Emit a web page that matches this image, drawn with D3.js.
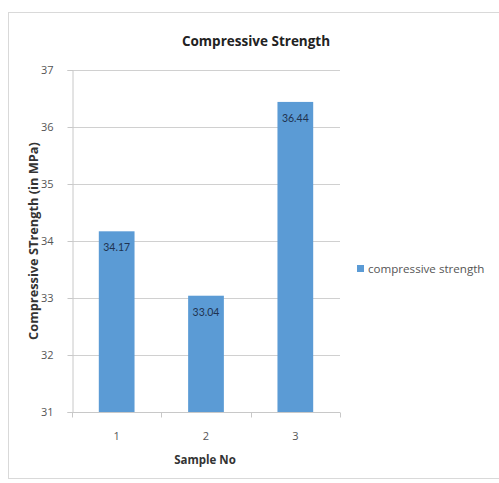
<!DOCTYPE html>
<html>
<head>
<meta charset="utf-8">
<script src="https://cdn.jsdelivr.net/npm/d3@7"></script>
<style>
  html, body { margin: 0; padding: 0; background: #fff; }
  svg { display: block; font-family: "Open Sans", Lato, sans-serif; }
</style>
</head>
<body>
<svg id="chart" width="499" height="483"></svg>
<script>
// Compressive strength per sample
const samples = ["1", "2", "3"];
const strength = [34.17, 33.04, 36.44];
const yTicks = [31, 32, 33, 34, 35, 36, 37];
const seriesName = "compressive strength";

const svg = d3.select("#chart");
const plot = { left: 72, right: 340, top: 70, bottom: 412 };
const barColor = "#5b9bd5";

// Outer chart frame
svg.append("rect")
  .attr("x", 8.5).attr("y", 12.5)
  .attr("width", 499).attr("height", 466)
  .attr("fill", "#fff").attr("stroke", "#d9d9d9");

const x = d3.scaleBand().domain(samples)
  .range([plot.left, plot.right])
  .paddingInner(0.6).paddingOuter(0.3);
const xBand = d3.scaleBand().domain(samples).range([plot.left, plot.right]);
const y = d3.scaleLinear().domain([31, 37]).range([plot.bottom, plot.top]);

// Horizontal gridlines
svg.append("g").selectAll("line").data(yTicks).join("line")
  .attr("x1", plot.left).attr("x2", plot.right)
  .attr("y1", d => Math.round(y(d)) + 0.5).attr("y2", d => Math.round(y(d)) + 0.5)
  .attr("stroke", "#d0d0d0");

// Y axis
const yAxis = svg.append("g")
  .attr("transform", `translate(${plot.left + 0.5},0)`)
  .call(d3.axisLeft(y).tickValues(yTicks).tickSize(5).tickPadding(14).tickFormat(d3.format("d")));
yAxis.select(".domain").attr("stroke", "#c8c8c8");
yAxis.selectAll(".tick line").attr("stroke", "#c8c8c8");
yAxis.selectAll("text").attr("fill", "#555")
  .style("font-size", "11px").style("font-family", "'Open Sans', sans-serif");

// Bars
svg.append("g").selectAll("rect").data(strength).join("rect")
  .attr("x", (d, i) => x(samples[i]))
  .attr("width", x.bandwidth())
  .attr("y", d => y(d))
  .attr("height", d => y(31) - y(d))
  .attr("fill", barColor);

// Value labels inside bar tops
svg.append("g").selectAll("text").data(strength).join("text")
  .attr("x", (d, i) => x(samples[i]) + x.bandwidth() / 2)
  .attr("y", d => y(d) + 20)
  .attr("text-anchor", "middle")
  .attr("fill", "#1f3350")
  .style("font-size", "10.5px")
  .style("font-family", "Lato, sans-serif")
  .text(d => d.toFixed(2));

// X axis with tick marks between categories
const xAxisY = Math.round(plot.bottom) + 0.5;
svg.append("line")
  .attr("x1", plot.left).attr("x2", plot.right)
  .attr("y1", xAxisY).attr("y2", xAxisY)
  .attr("stroke", "#c8c8c8");
const bounds = samples.map(s => xBand(s)).concat([plot.right]);
svg.append("g").selectAll("line").data(bounds).join("line")
  .attr("x1", d => Math.round(d) + 0.5).attr("x2", d => Math.round(d) + 0.5)
  .attr("y1", xAxisY).attr("y2", xAxisY + 5)
  .attr("stroke", "#c8c8c8");
svg.append("g").selectAll("text").data(samples).join("text")
  .attr("x", d => xBand(d) + xBand.bandwidth() / 2)
  .attr("y", plot.bottom + 28)
  .attr("text-anchor", "middle")
  .attr("fill", "#555")
  .style("font-size", "11px")
  .text(d => d);

// Titles
svg.append("text")
  .attr("x", 256).attr("y", 46)
  .attr("text-anchor", "middle")
  .style("font-size", "13.5px").style("font-weight", "bold")
  .attr("fill", "#222")
  .text("Compressive Strength");

svg.append("text")
  .attr("x", 205).attr("y", 464)
  .attr("text-anchor", "middle")
  .style("font-size", "11.5px").style("font-weight", "bold")
  .attr("fill", "#333")
  .text("Sample No");

svg.append("text")
  .attr("transform", `translate(38,${(plot.top + plot.bottom) / 2}) rotate(-90)`)
  .attr("text-anchor", "middle")
  .style("font-size", "12.8px").style("font-weight", "bold")
  .attr("fill", "#333")
  .text("Compressive STrength (in MPa)");

// Legend
const legend = svg.append("g").attr("transform", "translate(357,265)");
legend.append("rect").attr("width", 7).attr("height", 7).attr("fill", barColor);
legend.append("text")
  .attr("x", 11).attr("y", 7.5)
  .style("font-size", "11.6px")
  .attr("fill", "#555")
  .text(seriesName);
</script>
</body>
</html>
